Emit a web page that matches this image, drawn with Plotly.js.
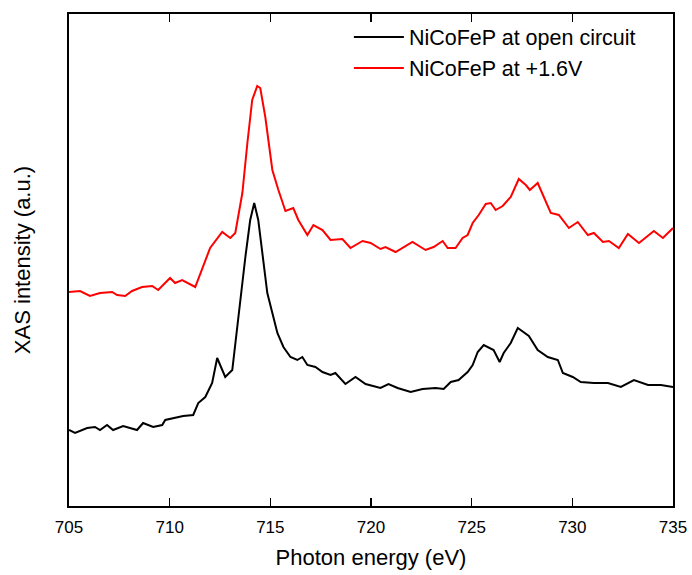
<!DOCTYPE html>
<html>
<head>
<meta charset="utf-8">
<script src="https://cdn.plot.ly/plotly-3.0.1.min.js"></script>
<style>html,body{margin:0;padding:0;background:#fff;}#chart{width:692px;height:575px;}</style>
</head>
<body>
<div id="chart"></div>
<script>
// Photon energy (eV) and XAS intensity (arbitrary units)
const redEnergy = [705.00,705.55,706.04,706.54,707.14,707.39,707.79,708.13,708.63,709.13,709.43,710.02,710.27,710.62,711.27,711.67,712.01,712.61,713.01,713.26,713.61,713.86,714.10,714.35,714.50,714.75,715.10,715.40,715.75,716.14,716.39,716.84,717.14,717.59,717.99,718.58,718.98,719.58,719.98,720.47,720.72,721.22,722.06,722.71,723.11,723.56,723.81,724.20,724.55,724.80,725.05,725.35,725.70,725.95,726.19,726.54,726.94,727.34,727.69,727.89,728.28,728.93,729.33,729.83,730.27,730.77,731.07,731.52,731.82,732.31,732.76,733.31,734.05,734.50,735.00];
const redIntensity = [214,215,210,213,214,211,210,215,219,220,216,228,223,226,219,239,258,274,268,273,313,363,406,420,418,389,336,316,295,298,286,271,281,276,266,267,258,265,263,257,259,254,264,256,259,265,258,258,268,271,283,291,302,303,296,300,309,327,321,316,323,293,291,278,284,271,273,264,265,258,272,263,275,268,278];

const blackEnergy = [705.00,705.30,705.90,706.29,706.54,706.89,707.19,707.69,708.38,708.68,709.18,709.63,709.78,710.27,710.67,711.17,711.42,711.77,712.11,712.36,712.76,713.11,713.41,713.76,714.00,714.20,714.40,714.65,714.85,715.10,715.35,715.65,716.00,716.34,716.59,716.84,717.24,717.59,717.99,718.23,718.73,719.23,719.73,720.47,720.87,721.32,721.97,722.56,723.21,723.61,723.96,724.35,724.80,725.05,725.30,725.60,726.09,726.39,726.59,726.94,727.29,727.84,728.28,728.78,729.28,729.53,730.02,730.42,731.07,731.77,732.41,733.06,733.76,734.40,735.00];
const blackIntensity = [76,73,78,79,76,81,76,80,76,83,79,81,86,88,90,91,103,109,123,148,129,136,189,249,286,303,286,246,213,193,173,159,149,146,149,141,139,134,131,133,122,129,122,118,122,118,114,117,118,117,124,126,134,141,154,161,156,144,153,163,178,170,156,149,146,133,129,124,123,123,119,126,121,121,119];

const seriesNames = ["NiCoFeP at open circuit", "NiCoFeP at +1.6V"];
const xTicks = [705,710,715,720,725,730,735];

const font = "Arial, 'Liberation Sans', sans-serif";

const traces = [
  {x: blackEnergy, y: blackIntensity, type: "scatter", mode: "lines", name: seriesNames[0],
   line: {color: "#000000", width: 2}, legendgroup: "a"},
  {x: redEnergy, y: redIntensity, type: "scatter", mode: "lines", name: seriesNames[1],
   line: {color: "#ff0000", width: 2}, legendgroup: "b"}
];

const layout = {
  width: 692, height: 575,
  margin: {l: 69, r: 19, t: 14, b: 69},
  paper_bgcolor: "#ffffff", plot_bgcolor: "#ffffff",
  font: {family: font, color: "#000000"},
  showlegend: true,
  legend: {x: 0.4634, y: 0.995, xanchor: "left", yanchor: "top", bgcolor: "rgba(0,0,0,0)",
           itemwidth: 50,
           font: {family: font, size: 21.5, color: "#000"}, traceorder: "grouped", tracegroupgap: 0},
  xaxis: {
    range: [705, 735], tickvals: xTicks, ticktext: xTicks.map(String),
    ticks: "inside", ticklen: 8, tickwidth: 1.5, tickcolor: "#000",
    ticklabelstandoff: 5,
    showline: true, linewidth: 2, linecolor: "#000", mirror: "ticks",
    showgrid: false, zeroline: false,
    tickfont: {family: font, size: 17, color: "#000"},
    title: {text: "Photon energy (eV)", font: {family: font, size: 22, color: "#000"}, standoff: 13}
  },
  yaxis: {
    range: [0, 492], showticklabels: false, ticks: "",
    showline: true, linewidth: 2, linecolor: "#000", mirror: true,
    showgrid: false, zeroline: false,
    title: {text: "XAS intensity (a.u.)", font: {family: font, size: 22, color: "#000"}, standoff: 30}
  }
};

Plotly.newPlot("chart", traces, layout, {displayModeBar: false, staticPlot: true});
</script>
</body>
</html>
